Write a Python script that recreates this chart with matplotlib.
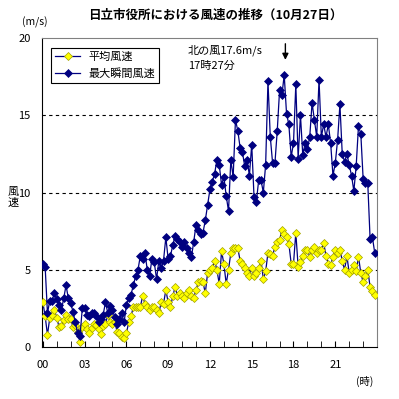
import numpy as np
import matplotlib
matplotlib.use("Agg")
import matplotlib.pyplot as plt

plt.rcParams['font.family'] = ['Noto Sans CJK JP', 'DejaVu Sans']

# 10-minute readings, 00:00 .. 23:50
max_gust = [
    5.4, 5.2, 2.2, 3.0, 3.0, 3.5,
    3.1, 2.7, 2.4, 3.15, 4.0, 3.15,
    2.85, 2.3, 1.6, 0.9, 0.7, 2.5,
    2.5, 2.1, 2.0, 2.2, 2.2, 2.0,
    1.65, 1.85, 2.1, 2.9, 2.2, 2.65,
    2.4, 1.95, 1.5, 1.85, 2.2, 1.6,
    2.7, 3.15, 3.4, 4.0, 4.6, 5.0,
    5.9, 5.7, 6.1, 5.0, 4.6, 5.7,
    5.5, 4.4, 5.6, 5.1, 5.6, 7.1,
    5.7, 5.9, 6.6, 7.2, 7.0, 6.8,
    6.5, 6.8, 6.4, 6.1, 5.8, 6.8,
    7.9, 7.6, 7.3, 7.4, 8.2, 9.2,
    10.2, 10.7, 11.2, 12.1, 11.8, 10.5,
    11.0, 9.8, 8.8, 12.1, 11.0, 14.7,
    14.0, 12.9, 12.6, 11.7, 12.1, 11.1,
    13.1, 9.7, 9.4, 10.8, 10.8, 10.0,
    11.8, 17.2, 13.6, 11.9, 11.9, 14.0,
    16.6, 16.3, 17.6, 15.1, 14.4, 12.3,
    13.2, 17.0, 12.2, 15.0, 12.4, 13.2,
    12.8, 13.6, 15.8, 14.7, 13.6, 17.3,
    13.6, 14.4, 13.6, 14.4, 13.2, 11.1,
    11.9, 13.4, 15.7, 12.5, 12.0, 12.5,
    11.8, 11.1, 10.1, 11.7, 14.3, 13.8,
    10.9, 10.6, 10.6, 7.0, 7.1, 6.1,
]

mean_speed = [
    2.9, 2.0, 0.8, 1.9, 2.1, 2.4,
    1.9, 1.3, 1.35, 1.75, 2.1, 1.8,
    1.8, 1.3, 1.4, 1.0, 0.35, 1.3,
    1.5, 1.2, 0.9, 1.25, 1.5, 1.4,
    1.2, 0.85, 1.35, 1.5, 2.1, 1.65,
    1.5, 1.65, 1.0, 0.9, 0.67, 0.56,
    0.9, 1.6, 2.0, 2.6, 2.6, 2.6,
    2.6, 3.3, 2.8, 2.6, 2.4, 2.6,
    2.6, 2.4, 2.2, 2.9, 2.8, 3.7,
    2.9, 2.6, 3.3, 3.9, 3.3, 3.5,
    3.3, 3.2, 3.5, 3.7, 3.3, 3.2,
    3.7, 4.2, 4.3, 4.2, 3.5, 4.8,
    5.0, 5.1, 5.6, 5.0, 4.1, 6.2,
    5.4, 4.1, 5.0, 6.1, 6.4, 6.4,
    6.4, 5.6, 5.4, 5.1, 4.8, 4.6,
    5.1, 4.6, 4.8, 5.1, 5.6, 4.4,
    4.9, 6.1, 6.0, 5.9, 6.5, 6.8,
    6.9, 7.6, 7.3, 7.1, 6.7, 5.4,
    5.4, 7.4, 5.2, 5.5, 5.9, 6.3,
    6.3, 5.85, 6.3, 6.5, 6.1, 6.3,
    6.3, 6.75, 5.9, 5.4, 5.3, 5.85,
    6.3, 6.06, 6.3, 5.6, 5.0, 5.9,
    4.8, 5.0, 5.3, 4.9, 5.85, 4.8,
    4.2, 4.6, 5.0, 3.9, 3.6, 3.4,
]

hour_labels = ['00', '03', '06', '09', '12', '15', '18', '21']
yticks = [0, 5, 10, 15, 20]

x = np.arange(len(max_gust))
navy = '#000080'

fig = plt.figure(figsize=(3.99, 3.99), dpi=100)
ax = fig.add_axes([0.105, 0.130, 0.84, 0.775])

for g in [5, 10, 15]:
    ax.axhline(g, color='black', lw=0.8, ls=(0, (3, 3)), zorder=1)

ax.plot(x, mean_speed, color=navy, lw=0.9, marker='D', ms=4,
        mfc='#FFFF00', mec='#A0A000', mew=0.5, label='平均風速', zorder=3)
ax.plot(x, max_gust, color=navy, lw=0.9, marker='D', ms=4,
        mfc=navy, mec=navy, mew=0.5, label='最大瞬間風速', zorder=4)

ax.set_xlim(-0.4, 144)
ax.set_ylim(0, 20)
ax.set_yticks(yticks)
ax.set_xticks(np.arange(0, 144, 18))
ax.set_xticklabels(hour_labels)
ax.set_xticks(np.arange(0, 144, 6), minor=True)
ax.tick_params(axis='x', which='both', direction='in', length=4, labelsize=8, pad=9)
ax.tick_params(axis='y', length=0, labelsize=8, pad=8)

for s in ['left', 'bottom']:
    ax.spines[s].set_color('black')
for s in ['top', 'right']:
    ax.spines[s].set_color('#808080')

leg = ax.legend(loc='upper left', bbox_to_anchor=(0.012, 0.985), fontsize=8,
                fancybox=False, framealpha=1, edgecolor='black',
                handlelength=2.2, borderpad=0.35, labelspacing=0.55)
leg.get_frame().set_linewidth(0.8)

fig.text(0.54, 0.962, '日立市役所における風速の推移（10月27日）',
         ha='center', va='center', fontsize=9, fontweight='bold')
fig.text(0.055, 0.945, '(m/s)', ha='left', va='center', fontsize=7.5)
fig.text(0.032, 0.505, '風\n速', ha='center', va='center', fontsize=8, linespacing=1.05)
fig.text(0.915, 0.045, '(時)', ha='center', va='center', fontsize=7.5)

ax.text(0.435, 0.98, '北の風17.6m/s\n17時27分', transform=ax.transAxes,
        ha='left', va='top', fontsize=8, linespacing=1.7)
ax.annotate('', xy=(104.5, 18.4), xytext=(104.5, 19.8),
            arrowprops=dict(arrowstyle='-|>', color='black', lw=1, mutation_scale=9))

fig.savefig('out.png', dpi=100, facecolor='white')
